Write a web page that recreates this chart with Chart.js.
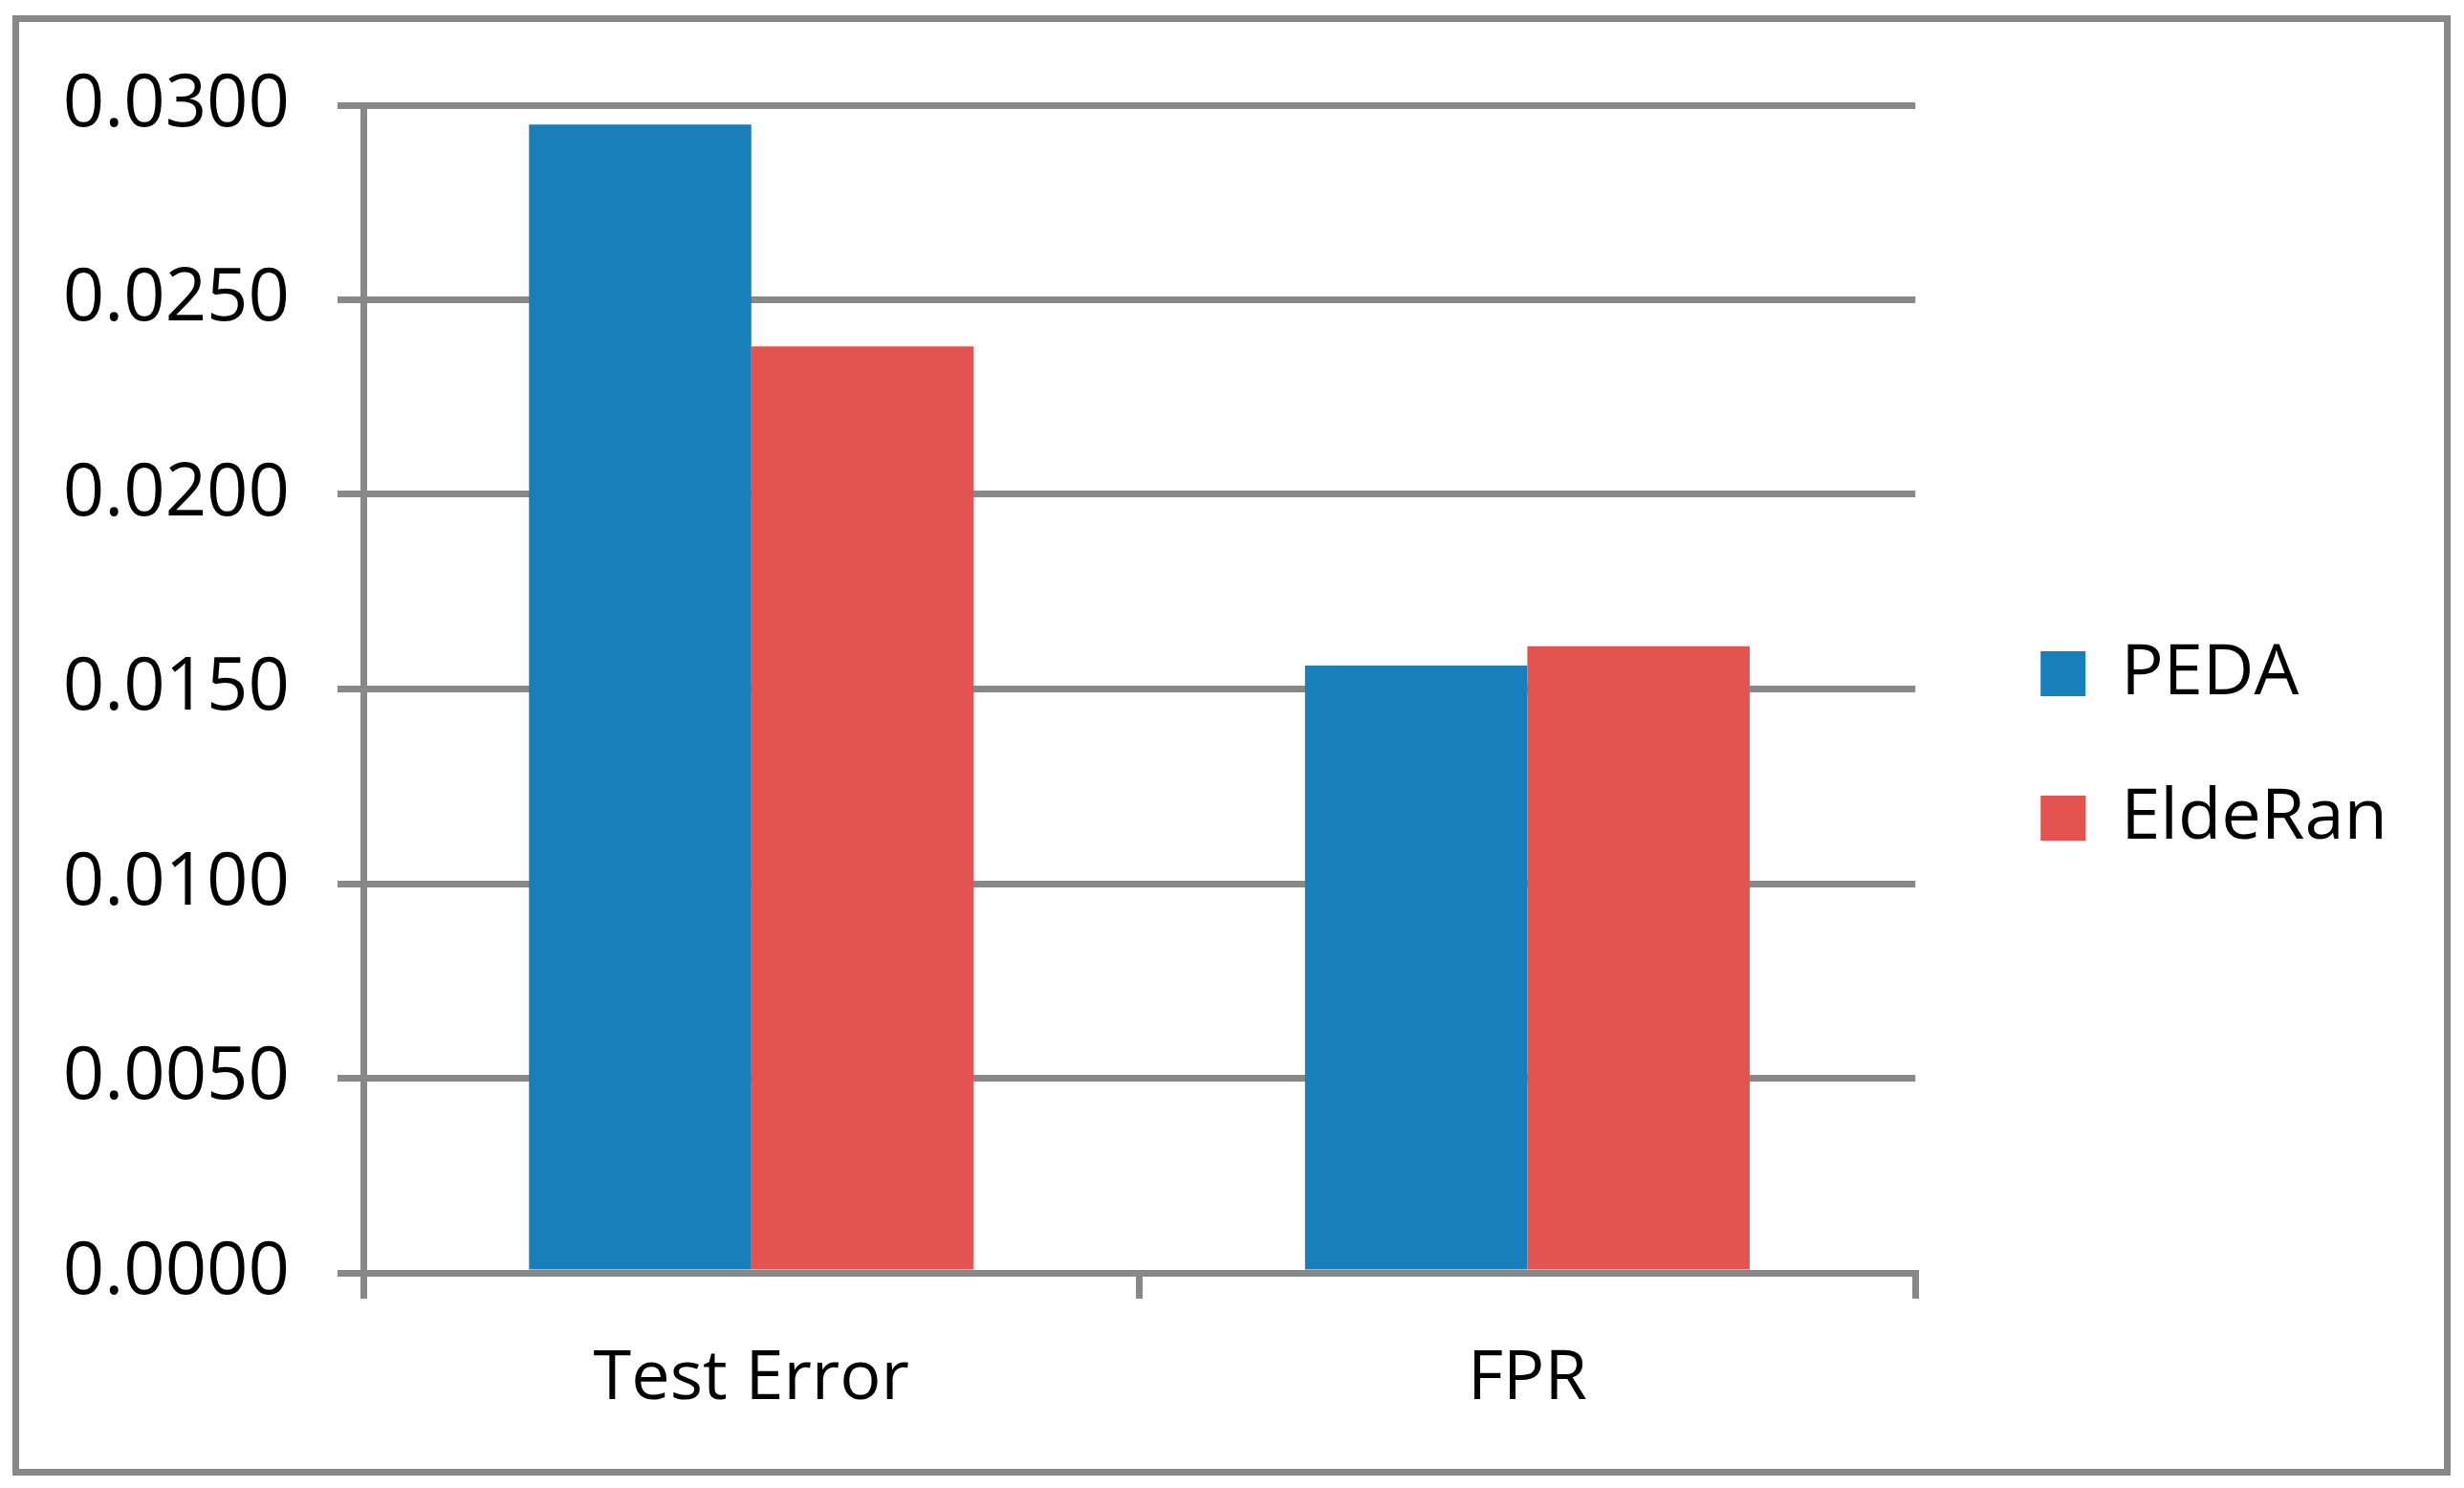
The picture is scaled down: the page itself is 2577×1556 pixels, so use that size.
<!DOCTYPE html>
<html lang="en">
<head>
    <meta charset="UTF-8">
    <title>PEDA vs EldeRan</title>
    <script src="https://cdnjs.cloudflare.com/ajax/libs/Chart.js/4.4.1/chart.umd.min.js"></script>
    <style>
        html, body {
            margin: 0;
            padding: 0;
            background: #fff;
        }
        .chart-container {
            width: 2577px;
            height: 1556px;
            position: relative;
        }
    </style>
</head>
<body>
    <div class="chart-container">
        <canvas id="errChart"></canvas>
    </div>

    <script>
        const categories = ['Test Error', 'FPR'];
        const seriesNames = ['PEDA', 'EldeRan'];
        const pedaValues = [0.0295, 0.0156];
        const elderanValues = [0.0238, 0.0161];
        const yTicks = [0, 0.005, 0.01, 0.015, 0.02, 0.025, 0.03];

        const gray = '#888888';
        const font = 'Open Sans';

        // outer chart frame + white fill
        const framePlugin = {
            id: 'frame',
            beforeDraw(chart) {
                const ctx = chart.ctx;
                ctx.save();
                ctx.fillStyle = '#fff';
                ctx.fillRect(0, 0, chart.width, chart.height);
                ctx.strokeStyle = gray;
                ctx.lineWidth = 7;
                ctx.strokeRect(16.5, 19.5, 2543, 1520);
                ctx.restore();
            }
        };

        // nudge the legend right and up like the original
        const legendNudge = {
            id: 'legendNudge',
            afterLayout(chart) {
                const lg = chart.legend;
                lg.left += 54; lg.right += 54;
                lg.top -= 53; lg.bottom -= 53;
            }
        };

        const ctx = document.getElementById('errChart').getContext('2d');
        new Chart(ctx, {
            type: 'bar',
            data: {
                labels: categories,
                datasets: [
                    { label: seriesNames[0], data: pedaValues, backgroundColor: '#187FBB', borderWidth: 0 },
                    { label: seriesNames[1], data: elderanValues, backgroundColor: '#E35451', borderWidth: 0 }
                ]
            },
            options: {
                responsive: true,
                maintainAspectRatio: false,
                animation: false,
                categoryPercentage: 0.573,
                barPercentage: 1.0,
                layout: {
                    padding: { top: 110, left: 0, right: 124, bottom: 0 }
                },
                scales: {
                    x: {
                        afterFit: s => { s.height = 225; },
                        grid: {
                            offset: true,
                            drawOnChartArea: false,
                            drawTicks: true,
                            tickLength: 27,
                            lineWidth: 7,
                            color: gray
                        },
                        border: { color: gray, width: 7, z: 1 },
                        ticks: {
                            color: '#000',
                            padding: 41,
                            font: { family: font, size: 72 }
                        }
                    },
                    y: {
                        min: 0,
                        max: 0.03,
                        afterFit: s => { s.width = 380; },
                        afterBuildTicks: s => { s.ticks = yTicks.map(v => ({ value: v })); },
                        grid: {
                            color: gray,
                            lineWidth: 7,
                            tickLength: 27
                        },
                        border: { color: gray, width: 7 },
                        ticks: {
                            color: '#000',
                            padding: 50,
                            font: { family: font, size: 76 },
                            callback: v => v.toFixed(4)
                        }
                    }
                },
                plugins: {
                    legend: {
                        position: 'right',
                        align: 'center',
                        labels: {
                            color: '#000',
                            boxWidth: 47,
                            boxHeight: 47,
                            padding: 77,
                            font: { family: font, size: 74 }
                        }
                    },
                    tooltip: { enabled: false }
                }
            },
            plugins: [framePlugin, legendNudge]
        });
    </script>
</body>
</html>
